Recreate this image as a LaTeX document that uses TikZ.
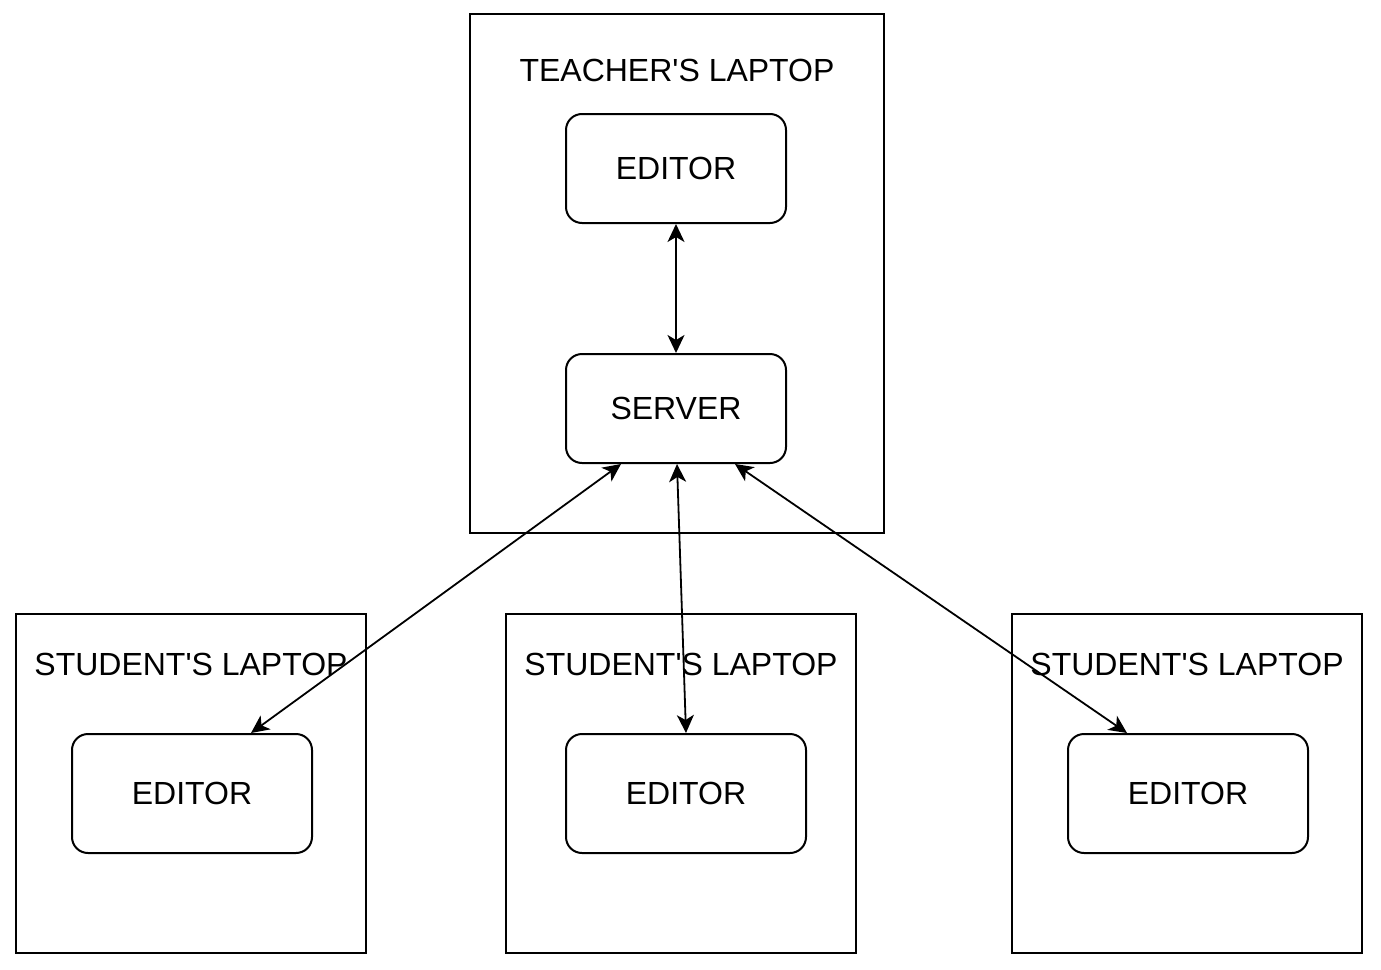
\documentclass[tikz,border=0pt]{standalone}
\usepackage{fontspec}
\setmainfont{Liberation Sans}
\usetikzlibrary{arrows.meta,calc}
\begin{document}
\begin{tikzpicture}[x=1pt,y=1pt,
  every node/.style={font=\fontsize{32}{38}\selectfont, inner sep=0pt},
  laptop/.style={draw, line width=2pt, minimum width=350pt, minimum height=339pt},
  box/.style={draw, line width=2pt, rounded corners=16pt, minimum width=220pt, minimum height=109pt},
  sbox/.style={draw, line width=2pt, rounded corners=16pt, minimum width=240pt, minimum height=119pt},
  link/.style={line width=1.8pt, {Stealth[length=18pt,width=17pt,inset=5pt]}-{Stealth[length=18pt,width=17pt,inset=5pt]}}]
\useasboundingbox (0,0) rectangle (1381,-969);
\fill[white] (0,0) rectangle (1381,-969);
% laptops
\node[draw, line width=2pt, minimum width=414pt, minimum height=519pt] (teacher) at (677,-273.5) {};
\node (ttitle) at (677,-70) {TEACHER\textquotesingle S LAPTOP};
\node[laptop] (s1) at (191,-783.5) {};
\node[laptop] (s2) at (681,-783.5) {};
\node[laptop] (s3) at (1187,-783.5) {};
\node (s1title) at (191,-664) {STUDENT\textquotesingle S LAPTOP};
\node (s2title) at (681,-664) {STUDENT\textquotesingle S LAPTOP};
\node (s3title) at (1187,-664) {STUDENT\textquotesingle S LAPTOP};
% inner boxes
\node[box] (teditor) at (676,-168.5) {EDITOR};
\node[box] (server) at (676,-408.5) {SERVER};
\node[sbox] (e1) at (192,-793.5) {EDITOR};
\node[sbox] (e2) at (686,-793.5) {EDITOR};
\node[sbox] (e3) at (1188,-793.5) {EDITOR};
% connectors
\draw[link] (teditor.south) -- (server.north);
\draw[link] ($(server.south west)+(56,0)$) -- ($(e1.north west)+(180,0)$);
\draw[link] ($(server.south)+(1,0)$) -- (e2.north);
\draw[link] ($(server.south east)+(-52,0)$) -- ($(e3.north west)+(60,0)$);
\end{tikzpicture}
\end{document}
